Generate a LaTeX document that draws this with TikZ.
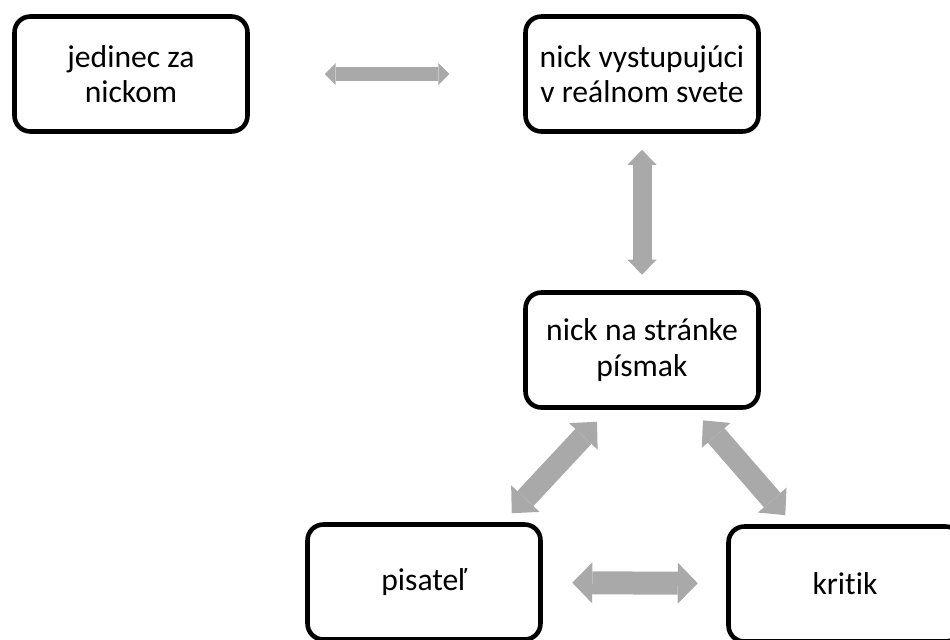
\documentclass[tikz,border=0pt]{standalone}
\usepackage{fontspec}
\setmainfont[Ligatures=NoCommon]{Carlito}
\usetikzlibrary{arrows.meta, positioning}
\definecolor{arrowgray}{HTML}{A9A9A9}
\tikzset{
x=0.02cm, y=-0.02cm, % one unit is one pixel of the picture, y runs down
box/.style={draw, line width=2.6pt, rounded corners=9pt, minimum width=4.66cm, minimum height=2.3cm, align=center, font=\fontsize{18}{20}\selectfont}, % the rounded boxes
biarrow/.style n args={3}{draw=arrowgray, line width=#1, {Triangle[width=#2, length=#3, line width=0pt]}-{Triangle[width=#2, length=#3, line width=0pt]}}, % thick grey two-way arrows
}

\begin{document}
\begin{tikzpicture}
    \clip (0,0) rectangle (950,639);
    \node[box] (jedinec) at (131,74) {jedinec za\\nickom};
    \node[box] (realny) at (642,74) {nick vystupujúci\\v reálnom svete};
    \node[box] (pismak) at (642,350) {nick na stránke\\písmak};
    \node[box] (pisatel) at (424,582) {pisateľ};
    \node[box] (kritik) at (845,584) {kritik};
    \draw[biarrow={0.28cm}{0.44cm}{0.22cm}, shorten <=1.5cm, shorten >=1.48cm] (jedinec) -- (realny);
    \draw[biarrow={0.38cm}{0.58cm}{0.3cm}, shorten <=0.32cm, shorten >=0.31cm] (realny) -- (pismak);
    \draw[biarrow={0.44cm}{0.78cm}{0.4cm}] ([shift={(-31,-9)}]pisatel.north east) -- ([shift={(-45,12)}]pismak.south);
    \draw[biarrow={0.44cm}{0.76cm}{0.4cm}, shorten <=0.28cm, shorten >=0.24cm] (pismak) -- (kritik);
    \draw[biarrow={0.46cm}{0.82cm}{0.4cm}, shorten <=0.59cm, shorten >=0.57cm] (pisatel) -- (kritik);
\end{tikzpicture}
\end{document}
